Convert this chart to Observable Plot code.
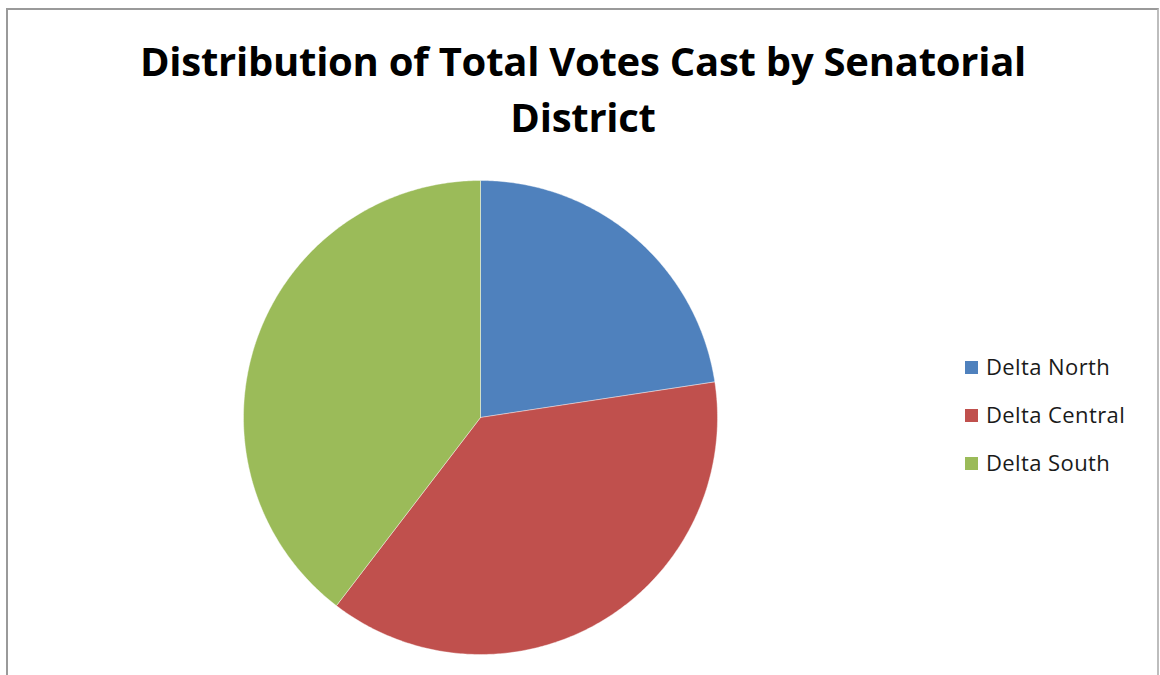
<!DOCTYPE html>
<html>
<head>
<meta charset="utf-8">
<script src="https://cdn.jsdelivr.net/npm/d3@7"></script>
<script src="https://cdn.jsdelivr.net/npm/@observablehq/plot@0.6"></script>
<style>
  html, body { margin: 0; padding: 0; background: #fff; }
  #page { position: relative; width: 1160px; height: 675px; overflow: hidden; background: #fff; }
  #frame { position: absolute; left: 6px; top: 8px; width: 1153px; height: 720px; border: 2px solid #9a9a9a; border-right-color: #bdbdbd; box-sizing: border-box; }
  #title { position: absolute; left: 0; top: 33px; width: 1166px; text-align: center; font-family: "Open Sans", sans-serif; font-weight: 700; font-size: 40px; line-height: 56px; color: #000; letter-spacing: -0.25px; }
  #chart { position: absolute; left: 0; top: 160px; }
  #legend { position: absolute; left: 965px; top: 0; font-family: "Open Sans", sans-serif; font-size: 22px; color: #1a1a1a; letter-spacing: 0.4px; }
  .item { position: absolute; left: 0; white-space: nowrap; height: 28px; line-height: 28px; }
  .sw { position: absolute; left: 0; top: 7px; width: 13px; height: 13px; }
  .lb { position: absolute; left: 21px; top: -2px; }
</style>
</head>
<body>
<div id="page">
  <div id="frame"></div>
  <div id="title">Distribution of Total Votes Cast by Senatorial<br>District</div>
  <div id="chart"></div>
  <div id="legend"></div>
</div>
<script>
const categories = ["Delta North", "Delta Central", "Delta South"];
const shares = [22.6, 37.8, 39.6];
const colors = ["#4F81BD", "#C0504D", "#9BBB59"];

const pie = d3.pie().sort(null).value(d => d.value)(categories.map((name, i) => ({name, value: shares[i]})));
const points = [];
for (const s of pie) {
  const name = s.data.name;
  points.push({name, x: 0, y: 0});
  const n = Math.max(8, Math.ceil((s.endAngle - s.startAngle) / 0.01));
  for (let k = 0; k <= n; k++) {
    const a = s.startAngle + (s.endAngle - s.startAngle) * k / n;
    points.push({name, x: Math.sin(a), y: Math.cos(a)});
  }
  points.push({name, x: 0, y: 0});
}

const chart = Plot.plot({
  width: 1160,
  height: 515,
  margin: 0,
  x: {domain: [-1, 1], range: [243, 717], axis: null},
  y: {domain: [-1, 1], range: [494, 20], axis: null},
  color: {domain: categories, range: colors},
  marks: [
    Plot.line(points, {x: "x", y: "y", z: "name", fill: "name", stroke: "#ffffff", strokeOpacity: 0.5, strokeWidth: 0.8, curve: "linear"})
  ]
});
document.getElementById("chart").appendChild(chart);

const legend = document.getElementById("legend");
const legendY = [354, 402, 450];
categories.forEach((name, i) => {
  const item = document.createElement("div");
  item.className = "item";
  item.style.top = legendY[i] + "px";
  const sw = document.createElement("span");
  sw.className = "sw";
  sw.style.background = colors[i];
  const lb = document.createElement("span");
  lb.className = "lb";
  lb.textContent = name;
  item.appendChild(sw);
  item.appendChild(lb);
  legend.appendChild(item);
});
</script>
</body>
</html>
